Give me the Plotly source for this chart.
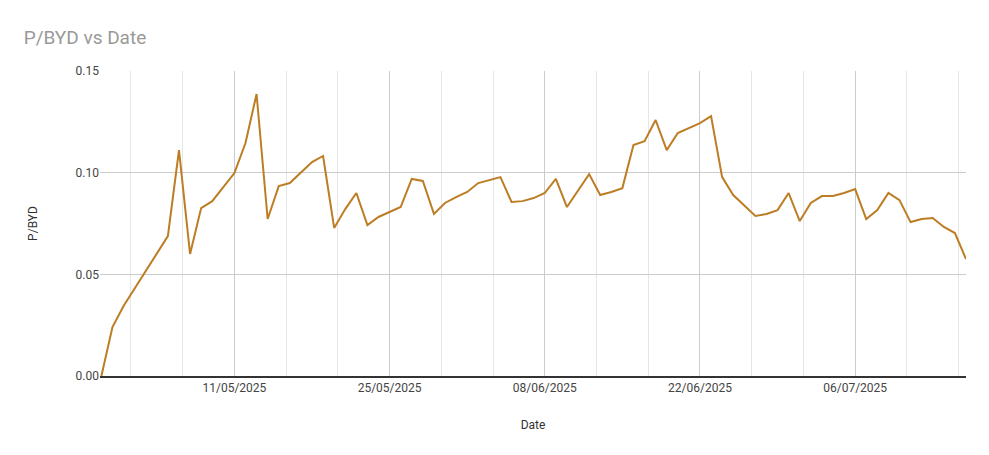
import plotly.graph_objects as go

dates = ['2025-04-29', '2025-04-30', '2025-05-01', '2025-05-05', '2025-05-06', '2025-05-07',
         '2025-05-08', '2025-05-09', '2025-05-11', '2025-05-12', '2025-05-13', '2025-05-14',
         '2025-05-15', '2025-05-16', '2025-05-18', '2025-05-19', '2025-05-20', '2025-05-21',
         '2025-05-22', '2025-05-23', '2025-05-24', '2025-05-25', '2025-05-26', '2025-05-27',
         '2025-05-28', '2025-05-29', '2025-05-30', '2025-05-31', '2025-06-01', '2025-06-02',
         '2025-06-03', '2025-06-04', '2025-06-05', '2025-06-06', '2025-06-07', '2025-06-08',
         '2025-06-09', '2025-06-10', '2025-06-12', '2025-06-13', '2025-06-14', '2025-06-15',
         '2025-06-16', '2025-06-17', '2025-06-18', '2025-06-19', '2025-06-20', '2025-06-21',
         '2025-06-22', '2025-06-23', '2025-06-24', '2025-06-25', '2025-06-27', '2025-06-28',
         '2025-06-29', '2025-06-30', '2025-07-01', '2025-07-02', '2025-07-03', '2025-07-04',
         '2025-07-05', '2025-07-06', '2025-07-07', '2025-07-08', '2025-07-09', '2025-07-10',
         '2025-07-11', '2025-07-12', '2025-07-13', '2025-07-14', '2025-07-15', '2025-07-16']

p_byd = [0.0, 0.0241, 0.0344, 0.0688, 0.1111, 0.0600,
         0.0826, 0.0860, 0.0998, 0.1146, 0.1387, 0.0772,
         0.0934, 0.0949, 0.1052, 0.1082, 0.0728, 0.0821,
         0.0900, 0.0742, 0.0782, 0.0806, 0.0831, 0.0969,
         0.0959, 0.0797, 0.0851, 0.0880, 0.0905, 0.0949,
         0.0964, 0.0978, 0.0856, 0.0860, 0.0875, 0.0900,
         0.0969, 0.0831, 0.0993, 0.0890, 0.0905, 0.0924,
         0.1136, 0.1155, 0.1259, 0.1111, 0.1195, 0.1219,
         0.1244, 0.1278, 0.0978, 0.0890, 0.0787, 0.0797,
         0.0816, 0.0900, 0.0762, 0.0851, 0.0885, 0.0885,
         0.0900, 0.0919, 0.0772, 0.0816, 0.0900, 0.0865,
         0.0757, 0.0772, 0.0777, 0.0733, 0.0703, 0.0575]

day_ms = 86400000

fig = go.Figure(go.Scatter(x=dates, y=p_byd, mode='lines',
                           line=dict(color='rgb(188,125,36)', width=2)))

# page has an 8px body margin, so the figure is sized/offset to compensate
fig.update_layout(
    width=981, height=447,
    paper_bgcolor='white', plot_bgcolor='white',
    margin=dict(l=92, r=23, t=63, b=79),
    font=dict(family='Roboto, Arial, sans-serif', size=12, color='#444'),
    title=dict(text='P/BYD vs Date', x=0.016, y=0.935, xanchor='left', yanchor='middle',
               font=dict(size=19, color='#999')),
    showlegend=False,
)
fig.update_xaxes(
    title=dict(text='Date', font=dict(size=12, color='#333'), standoff=26),
    type='date', range=['2025-04-28 21:00', '2025-07-16'],
    tick0='2025-05-11', dtick=14 * day_ms, tickformat='%d/%m/%Y',
    showgrid=True, gridcolor='#cccccc', gridwidth=1,
    minor=dict(tick0='2025-05-11', dtick=14 * day_ms / 3, showgrid=True, gridcolor='#e6e6e6'),
    showline=True, linecolor='#333', linewidth=1.5, ticks='', zeroline=False,
)
fig.update_yaxes(
    title=dict(text='P/BYD', font=dict(size=12, color='#333'), standoff=35),
    range=[0, 0.15], dtick=0.05, tickformat='.2f',
    showgrid=True, gridcolor='#cccccc', zeroline=False, ticks='',
)

fig.write_html("out.html")
